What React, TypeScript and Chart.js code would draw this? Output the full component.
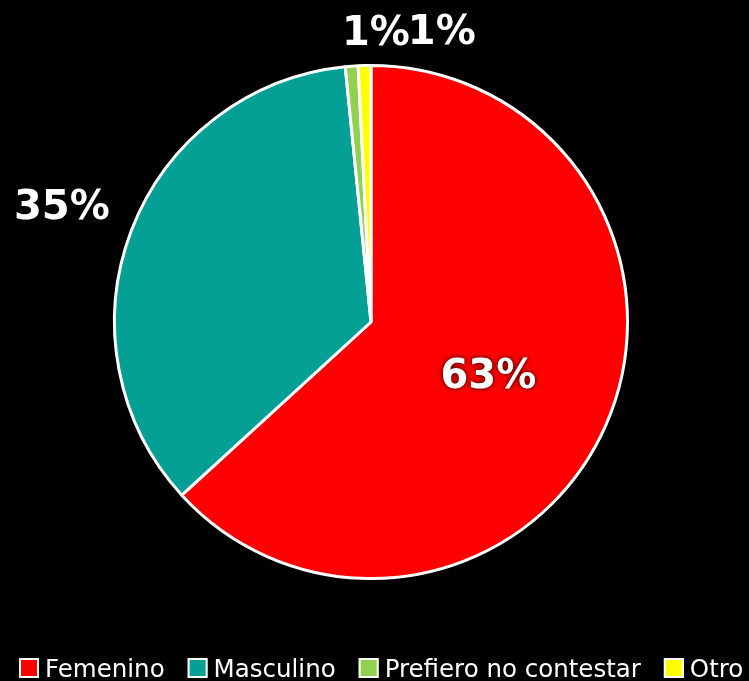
import React, { useEffect, useRef } from "react";
import { Chart, registerables } from "chart.js";

Chart.register(...registerables);

const categories = ["Femenino", "Masculino", "Prefiero no contestar", "Otro"];
const values = [63.2, 35.2, 0.8, 0.8];
const colors = ["#FF0000", "#04A096", "#92D050", "#FFFF00"];

const LABEL_FONT = "bold 40px 'DejaVu Sans'";
const LEGEND_FONT = "24.5px 'DejaVu Sans'";

const sliceLabels = {
  id: "sliceLabels",
  afterDatasetsDraw(chart: any) {
    const ctx = chart.ctx;
    const meta = chart.getDatasetMeta(0);
    const data: number[] = chart.data.datasets[0].data;
    const total = data.reduce((a, b) => a + b, 0);
    ctx.save();
    ctx.font = LABEL_FONT;
    ctx.fillStyle = "#FFFFFF";
    ctx.shadowColor = "rgba(0,0,0,0.9)";
    ctx.shadowBlur = 5;
    ctx.textBaseline = "alphabetic";
    const capHalf = 0.729 * 40 / 2;
    let lastRight = -Infinity;
    meta.data.forEach((arc: any, i: number) => {
      const p = arc.getProps(["x", "y", "startAngle", "endAngle", "outerRadius"], true);
      const mid = (p.startAngle + p.endAngle) / 2;
      const pct = (data[i] / total) * 100;
      const text = Math.round(pct) + "%";
      if (pct >= 50) {
        const r = p.outerRadius * 0.5;
        ctx.textAlign = "center";
        ctx.fillText(text, p.x + Math.cos(mid) * r, p.y + Math.sin(mid) * r + capHalf);
      } else if (pct >= 5) {
        const r = p.outerRadius * 1.29;
        ctx.textAlign = "center";
        ctx.fillText(text, p.x + Math.cos(mid) * r, p.y + Math.sin(mid) * r + capHalf);
      } else {
        const r = p.outerRadius * 1.141;
        const w = ctx.measureText(text).width;
        let lx = p.x + Math.cos(mid) * r - 7;
        if (lx < lastRight) lx = lastRight - 2;
        ctx.textAlign = "left";
        ctx.fillText(text, lx, p.y + Math.sin(mid) * r + capHalf);
        lastRight = lx + w;
      }
    });
    ctx.restore();
  },
};

const bottomLegend = {
  id: "bottomLegend",
  afterDraw(chart: any) {
    const ctx = chart.ctx;
    const labels: string[] = chart.data.labels;
    const bg: string[] = chart.data.datasets[0].backgroundColor;
    ctx.save();
    ctx.font = LEGEND_FONT;
    ctx.textAlign = "left";
    ctx.textBaseline = "alphabetic";
    const yMid = 668;
    const box = 20;
    let x = 19;
    labels.forEach((lab, i) => {
      ctx.fillStyle = bg[i];
      ctx.fillRect(x, yMid - box / 2, box, box);
      ctx.strokeStyle = "#FFFFFF";
      ctx.lineWidth = 2;
      ctx.strokeRect(x + 1, yMid - box / 2 + 1, box - 2, box - 2);
      const tx = x + box + 6;
      ctx.fillStyle = "#FFFFFF";
      ctx.fillText(lab, tx, yMid + 0.729 * 24.5 / 2);
      x = tx + ctx.measureText(lab).width + 23;
    });
    ctx.restore();
  },
};

export default function App() {
  const ref = useRef<HTMLCanvasElement>(null);
  useEffect(() => {
    if (!ref.current) return;
    const chart = new Chart(ref.current, {
      type: "pie",
      data: {
        labels: categories,
        datasets: [
          {
            data: values,
            backgroundColor: colors,
            borderColor: "#FFFFFF",
            borderWidth: 3,
          },
        ],
      },
      options: {
        animation: false,
        responsive: true,
        maintainAspectRatio: false,
        layout: { padding: { left: 113, right: 120, top: 64, bottom: 101 } },
        plugins: {
          legend: { display: false },
          tooltip: { enabled: false },
        },
      },
      plugins: [sliceLabels, bottomLegend],
    });
    return () => chart.destroy();
  }, []);
  return (
    <div
      style={{
        position: "fixed",
        left: 0,
        top: 0,
        width: 749,
        height: 681,
        background: "#000000",
        overflow: "hidden",
      }}
    >
      <canvas ref={ref} />
    </div>
  );
}
